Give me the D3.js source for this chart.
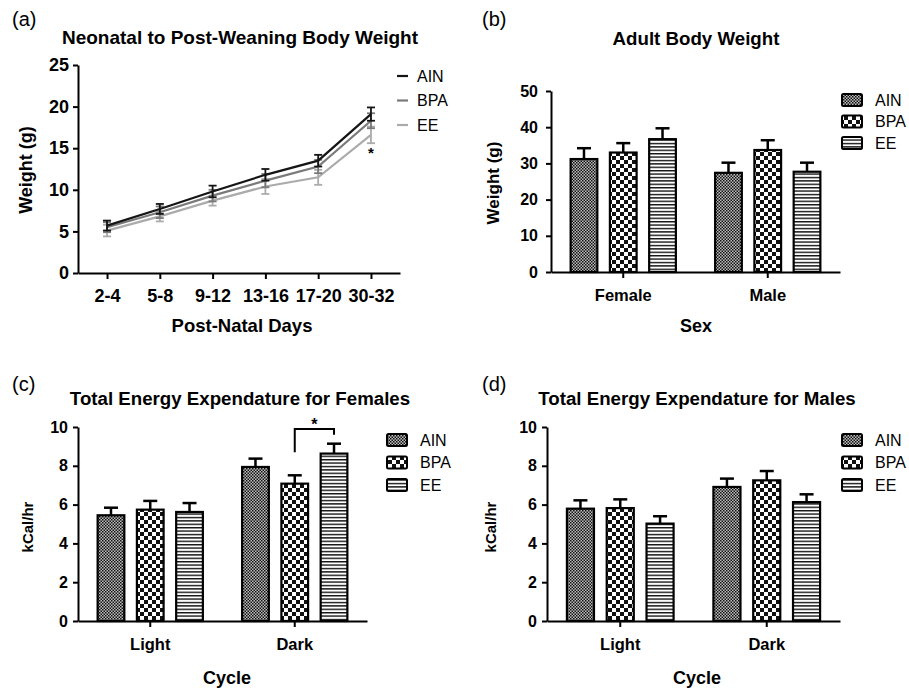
<!DOCTYPE html>
<html>
<head>
<meta charset="utf-8">
<script src="https://cdn.jsdelivr.net/npm/d3@7"></script>
<style>
  body { margin: 0; background: #fff; }
  text { font-family: "Liberation Sans", Arial, sans-serif; }
</style>
</head>
<body>
<svg id="fig" width="909" height="691"></svg>
<script>
// ---- data ----
const days = ["2-4", "5-8", "9-12", "13-16", "17-20", "30-32"]
const diets = ["AIN", "BPA", "EE"]

// (a) neonatal to post-weaning weight (g), mean and error
const pupAIN = [5.7, 7.7, 9.8, 11.8, 13.5, 19.1]
const pupAINErr = [0.6, 0.6, 0.7, 0.7, 0.7, 0.8]
const pupBPA = [5.5, 7.3, 9.3, 11.1, 12.8, 18.3]
const pupBPAErr = [0.6, 0.7, 0.7, 0.8, 0.8, 0.9]
const pupEE = [5.1, 6.8, 8.7, 10.4, 11.5, 16.6]
const pupEEErr = [0.7, 0.6, 0.6, 0.9, 0.9, 1.0]

// (b) adult body weight (g)
const sexes = ["Female", "Male"]
const adultAIN = [31.2, 27.4]
const adultAINErr = [3.0, 2.8]
const adultBPA = [33.0, 33.7]
const adultBPAErr = [2.6, 2.7]
const adultEE = [36.7, 27.7]
const adultEEErr = [3.0, 2.5]

// (c) / (d) total energy expenditure (kCal/hr)
const cycles = ["Light", "Dark"]
const femAIN = [5.45, 7.94]
const femAINErr = [0.39, 0.43]
const femBPA = [5.74, 7.08]
const femBPAErr = [0.45, 0.43]
const femEE = [5.62, 8.63]
const femEEErr = [0.46, 0.51]
const maleAIN = [5.79, 6.91]
const maleAINErr = [0.43, 0.43]
const maleBPA = [5.82, 7.25]
const maleBPAErr = [0.45, 0.48]
const maleEE = [5.02, 6.13]
const maleEEErr = [0.38, 0.40]

// significance annotations
const pupStar = { day: "30-32", value: 14.8 }
const femBracket = { cycle: "Dark", from: "BPA", to: "EE", top: 9.9, fromEnd: 8.7, toEnd: 9.6 }

const svg = d3.select("#fig")

// ---- fill patterns ----
const defs = svg.append("defs")

const pAIN = defs.append("pattern").attr("id", "pat-AIN")
  .attr("patternUnits", "userSpaceOnUse").attr("width", 3).attr("height", 3)
pAIN.append("rect").attr("width", 3).attr("height", 3).attr("fill", "#bdbdbd")
pAIN.append("rect").attr("width", 1.5).attr("height", 1.5).attr("fill", "#111")
pAIN.append("rect").attr("x", 1.5).attr("y", 1.5).attr("width", 1.5).attr("height", 1.5).attr("fill", "#111")

const pBPA = defs.append("pattern").attr("id", "pat-BPA")
  .attr("patternUnits", "userSpaceOnUse").attr("width", 8).attr("height", 8)
pBPA.append("rect").attr("width", 8).attr("height", 8).attr("fill", "#fff")
pBPA.append("rect").attr("width", 4).attr("height", 4).attr("fill", "#111")
pBPA.append("rect").attr("x", 4).attr("y", 4).attr("width", 4).attr("height", 4).attr("fill", "#111")

const pEE = defs.append("pattern").attr("id", "pat-EE")
  .attr("patternUnits", "userSpaceOnUse").attr("width", 4).attr("height", 3.4)
pEE.append("rect").attr("width", 4).attr("height", 3.4).attr("fill", "#fff")
pEE.append("rect").attr("width", 4).attr("height", 1.4).attr("fill", "#111")

const fillFor = s => `url(#pat-${s})`

function styleAxis(g, size) {
  g.select(".domain").attr("stroke", "#000").attr("stroke-width", 2)
  g.selectAll(".tick line").attr("stroke", "#000").attr("stroke-width", 2)
  g.selectAll(".tick text")
    .attr("fill", "#000")
    .attr("font-size", size)
    .attr("font-weight", "bold")
    .attr("font-family", "Liberation Sans, Arial, sans-serif")
}

function addText(x, y, str, size, weight, anchor) {
  return svg.append("text")
    .attr("x", x).attr("y", y)
    .attr("font-size", size)
    .attr("font-weight", weight || "normal")
    .attr("text-anchor", anchor || "start")
    .attr("fill", "#000")
    .text(str)
}

function addYLabel(x, y, str, size) {
  svg.append("text")
    .attr("transform", `translate(${x},${y}) rotate(-90)`)
    .attr("text-anchor", "middle")
    .attr("font-size", size)
    .attr("font-weight", "bold")
    .text(str)
}

// ---- panel (a): line chart ----
{
  const x = d3.scalePoint().domain(days).range([78, 400]).padding(0.55)
  const y = d3.scaleLinear().domain([0, 25]).range([273, 65])

  const xAxis = svg.append("g").attr("transform", "translate(0,273)")
    .call(d3.axisBottom(x).tickSize(6).tickSizeOuter(0).tickPadding(10))
  styleAxis(xAxis, 18)
  const yAxis = svg.append("g").attr("transform", "translate(78,0)")
    .call(d3.axisLeft(y).tickValues([0, 5, 10, 15, 20, 25]).tickSize(5).tickSizeOuter(0).tickPadding(4))
  styleAxis(yAxis, 18)

  const series = [
    { name: "AIN", vals: pupAIN, errs: pupAINErr, color: "#151515" },
    { name: "BPA", vals: pupBPA, errs: pupBPAErr, color: "#7a7a7a" },
    { name: "EE", vals: pupEE, errs: pupEEErr, color: "#ababab" }
  ]
  const line = d3.line().x((d, i) => x(days[i])).y(d => y(d))

  // draw lightest first so black sits on top
  series.slice().reverse().forEach(s => {
    const g = svg.append("g")
    s.vals.forEach((v, i) => {
      const cx = x(days[i])
      g.append("line").attr("x1", cx).attr("x2", cx)
        .attr("y1", y(v - s.errs[i])).attr("y2", y(v + s.errs[i]))
        .attr("stroke", s.color).attr("stroke-width", 1.8)
      ;[v - s.errs[i], v + s.errs[i]].forEach(e => {
        g.append("line").attr("x1", cx - 4).attr("x2", cx + 4)
          .attr("y1", y(e)).attr("y2", y(e))
          .attr("stroke", s.color).attr("stroke-width", 1.8)
      })
    })
    g.append("path").datum(s.vals)
      .attr("d", line).attr("fill", "none")
      .attr("stroke", s.color).attr("stroke-width", 2.2)
  })

  svg.append("text")
    .attr("x", x(pupStar.day)).attr("y", y(pupStar.value) + 8)
    .attr("text-anchor", "middle").attr("font-size", 15).attr("font-weight", "bold")
    .text("*")

  // legend
  series.forEach((s, i) => {
    const ly = 76 + i * 24.5
    svg.append("line").attr("x1", 397).attr("x2", 408).attr("y1", ly).attr("y2", ly)
      .attr("stroke", s.color).attr("stroke-width", 2.2)
    addText(417, ly, s.name, 16).attr("dy", "0.35em")
  })

  addText(12, 26, "(a)", 20)
  addText(240, 44, "Neonatal to Post-Weaning Body Weight", 19, "bold", "middle")
  addText(242, 332, "Post-Natal Days", 18.5, "bold", "middle")
  addYLabel(32, 170, "Weight (g)", 18)
}

// ---- bar panels (b), (c), (d) ----
function barPanel(o) {
  const x0 = d3.scaleBand().domain(o.groups).range([o.left, o.right]).padding(0)
  const x1 = d3.scaleBand().domain(diets).range([0, x0.bandwidth()])
    .paddingInner(0.32).paddingOuter(0.5)
  const y = d3.scaleLinear().domain([0, o.yMax]).range([o.bottom, o.top])

  const xAxis = svg.append("g").attr("transform", `translate(0,${o.bottom})`)
    .call(d3.axisBottom(x0).tickSize(6).tickSizeOuter(0).tickPadding(11))
  styleAxis(xAxis, 16.5)
  const yAxis = svg.append("g").attr("transform", `translate(${o.left},0)`)
    .call(d3.axisLeft(y).tickValues(d3.range(0, o.yMax + 0.001, o.yStep))
      .tickSize(5).tickSizeOuter(0).tickPadding(o.tickPad))
  styleAxis(yAxis, 16)

  const bars = []
  o.groups.forEach((gname, gi) => {
    diets.forEach((s, si) => {
      bars.push({ group: gname, series: s, value: o.values[si][gi], err: o.errors[si][gi] })
    })
  })

  const g = svg.append("g")
  g.selectAll("line.err").data(bars).enter().append("line").attr("class", "err")
    .attr("x1", d => x0(d.group) + x1(d.series) + x1.bandwidth() / 2)
    .attr("x2", d => x0(d.group) + x1(d.series) + x1.bandwidth() / 2)
    .attr("y1", d => y(d.value)).attr("y2", d => y(d.value + d.err))
    .attr("stroke", "#000").attr("stroke-width", 2.5)
  g.selectAll("line.cap").data(bars).enter().append("line").attr("class", "cap")
    .attr("x1", d => x0(d.group) + x1(d.series) + x1.bandwidth() / 2 - 7)
    .attr("x2", d => x0(d.group) + x1(d.series) + x1.bandwidth() / 2 + 7)
    .attr("y1", d => y(d.value + d.err)).attr("y2", d => y(d.value + d.err))
    .attr("stroke", "#000").attr("stroke-width", 2.5)
  g.selectAll("rect").data(bars).enter().append("rect")
    .attr("x", d => x0(d.group) + x1(d.series))
    .attr("y", d => y(d.value))
    .attr("width", x1.bandwidth())
    .attr("height", d => y(0) - y(d.value))
    .attr("fill", d => fillFor(d.series))
    .attr("stroke", "#000").attr("stroke-width", 2.2)

  // legend
  diets.forEach((s, i) => {
    const ly = o.legendY + i * o.legendGap
    svg.append("rect").attr("x", o.legendX).attr("y", ly - 6)
      .attr("width", 20).attr("height", 12).attr("rx", 1.5)
      .attr("fill", fillFor(s)).attr("stroke", "#000").attr("stroke-width", 2)
    addText(o.legendX + 33, ly, s, 16).attr("dy", "0.35em")
  })

  addText(o.letterX, o.letterY, o.letter, 20)
  addText(o.titleX, o.titleY, o.title, 18.7, "bold", "middle")
  addText(o.xTitleX, o.xTitleY, o.xTitle, 18, "bold", "middle")
  addYLabel(o.yLabelX, o.yLabelY, o.yLabel, o.yLabelSize)

  return { x0, x1, y }
}

barPanel({
  groups: sexes, values: [adultAIN, adultBPA, adultEE], errors: [adultAINErr, adultBPAErr, adultEEErr],
  left: 551, right: 840, top: 91, bottom: 272, yMax: 50, yStep: 10, tickPad: 8,
  legendX: 842, legendY: 100, legendGap: 21.5,
  letter: "(b)", letterX: 482, letterY: 26,
  title: "Adult Body Weight", titleX: 696, titleY: 45,
  xTitle: "Sex", xTitleX: 696, xTitleY: 332,
  yLabel: "Weight (g)", yLabelX: 499, yLabelY: 183, yLabelSize: 17
})

const fem = barPanel({
  groups: cycles, values: [femAIN, femBPA, femEE], errors: [femAINErr, femBPAErr, femEEErr],
  left: 78, right: 367, top: 427, bottom: 621, yMax: 10, yStep: 2, tickPad: 5,
  legendX: 387, legendY: 440, legendGap: 22.5,
  letter: "(c)", letterX: 12, letterY: 391,
  title: "Total Energy Expendature for Females", titleX: 240, titleY: 405,
  xTitle: "Cycle", xTitleX: 227, xTitleY: 684,
  yLabel: "kCal/hr", yLabelX: 33, yLabelY: 527, yLabelSize: 15
})

barPanel({
  groups: cycles, values: [maleAIN, maleBPA, maleEE], errors: [maleAINErr, maleBPAErr, maleEEErr],
  left: 547, right: 840, top: 427, bottom: 621, yMax: 10, yStep: 2, tickPad: 5,
  legendX: 842, legendY: 440, legendGap: 22.5,
  letter: "(d)", letterX: 482, letterY: 391,
  title: "Total Energy Expendature for Males", titleX: 697, titleY: 405,
  xTitle: "Cycle", xTitleX: 697, xTitleY: 684,
  yLabel: "kCal/hr", yLabelX: 496, yLabelY: 527, yLabelSize: 15
})

// significance bracket in (c)
{
  const { x0, x1, y } = fem
  const xa = x0(femBracket.cycle) + x1(femBracket.from) + x1.bandwidth() / 2
  const xb = x0(femBracket.cycle) + x1(femBracket.to) + x1.bandwidth() / 2
  svg.append("path")
    .attr("d", `M${xa},${y(femBracket.fromEnd)}V${y(femBracket.top)}H${xb}V${y(femBracket.toEnd)}`)
    .attr("fill", "none").attr("stroke", "#000").attr("stroke-width", 2)
  svg.append("text")
    .attr("x", (xa + xb) / 2).attr("y", y(femBracket.top) + 1)
    .attr("text-anchor", "middle").attr("font-size", 16).attr("font-weight", "bold")
    .text("*")
}
</script>
</body>
</html>
